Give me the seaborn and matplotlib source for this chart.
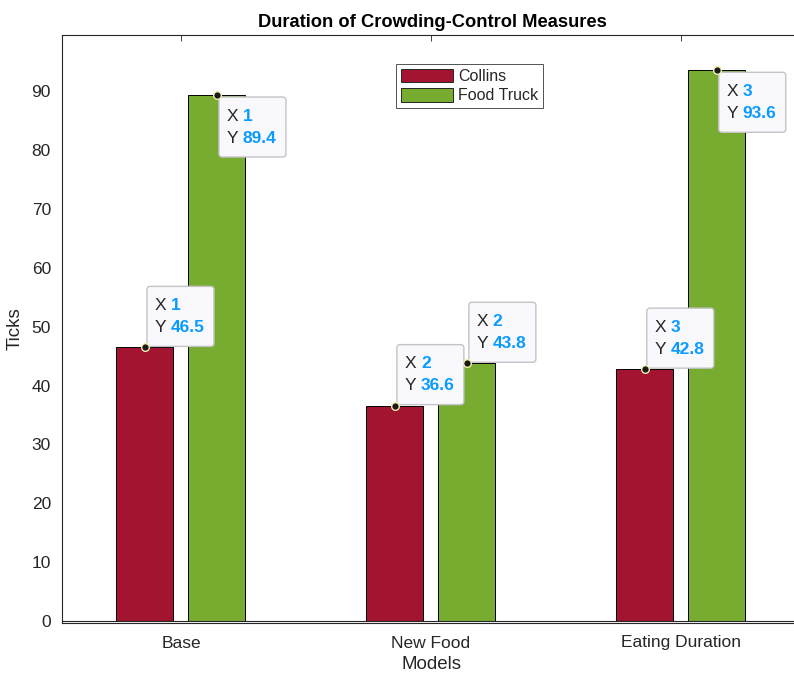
import matplotlib
matplotlib.use('Agg')
import matplotlib.pyplot as plt
from matplotlib.patches import FancyBboxPatch, Rectangle
from matplotlib.transforms import IdentityTransform
import seaborn as sns
import pandas as pd

# data
models = ['Base', 'New Food', 'Eating Duration']
collins = [46.5, 36.6, 42.8]
food_truck = [89.4, 43.8, 93.6]
series_names = ['Collins', 'Food Truck']
tip_below = [[False, False, False], [True, False, True]]  # datatip placed under the point

red = '#A2142F'
green = '#77AC30'
dark = '#262626'
blue = '#0A9BFF'

df = pd.DataFrame({
    'Models': models * 2,
    'Ticks': collins + food_truck,
    'Series': [series_names[0]] * 3 + [series_names[1]] * 3,
})

sns.set_style('white')
plt.rcParams['font.family'] = ['Liberation Sans', 'DejaVu Sans']

fig = plt.figure(figsize=(7.94, 6.75), dpi=100)
ax = fig.add_axes([62 / 794, 52 / 675, 740 / 794, 588 / 675])

sns.barplot(data=df, x='Models', y='Ticks', hue='Series', order=models,
            hue_order=series_names, palette=[red, green], width=0.576, gap=0.208,
            edgecolor='black', linewidth=0.7, saturation=1, ax=ax, legend=False)

ax.set_xlim(-0.476, 2.485)
ax.set_ylim(-0.35, 99.6)
ax.set_yticks(range(0, 100, 10))
ax.axhline(0, color=dark, lw=0.8, zorder=3)

for s in ax.spines.values():
    s.set_color(dark)
    s.set_linewidth(0.8)
    s.set_visible(True)
ax.tick_params(direction='in', length=4, width=0.6, top=True, right=True,
               colors=dark, labelsize=12.5)
ax.tick_params(axis='x', pad=9)
ax.tick_params(axis='y', pad=8)
ax.set_title('Duration of Crowding-Control Measures', fontsize=13.2,
             fontweight='bold', color='black', pad=6)
ax.set_xlabel('Models', fontsize=13.5, color=dark, labelpad=4)
ax.set_ylabel('Ticks', fontsize=13.5, color=dark, labelpad=6)

handles = [Rectangle((0, 0), 1, 1, facecolor=c, edgecolor=dark, lw=0.7) for c in (red, green)]
leg = ax.legend(handles, series_names, loc='upper left', bbox_to_anchor=(0.452, 0.951),
                fontsize=11.5, frameon=True, fancybox=False, edgecolor=dark,
                handlelength=3.25, handleheight=0.94, handletextpad=0.3,
                labelspacing=0.25, borderpad=0.3, borderaxespad=0)
leg.get_frame().set_linewidth(0.7)

fig.canvas.draw()

# MATLAB style datatips, placed at the top centre of each bar
for si, cont in enumerate(ax.containers):
    for ci, bar in enumerate(cont.patches):
        xc = bar.get_x() + bar.get_width() / 2
        yv = bar.get_height()
        px, py = ax.transData.transform((xc, yv))
        w, h = 67, 60
        left = px + 2
        bottom = py - h - 2 if tip_below[si][ci] else py + 1
        box = FancyBboxPatch((left, bottom), w, h, boxstyle='round,pad=0,rounding_size=3',
                             facecolor='#F9F9FD', edgecolor='#C4C4C8', lw=1.0,
                             transform=IdentityTransform(), zorder=6, clip_on=False)
        ax.add_artist(box)
        top = bottom + h
        for lab, val, dy in (('X', str(ci + 1), 19), ('Y', f'{yv:.1f}', 41)):
            ax.text(left + 8, top - dy, lab, transform=IdentityTransform(), fontsize=12.5,
                    color=dark, va='center', ha='left', zorder=7)
            ax.text(left + 24, top - dy, val, transform=IdentityTransform(), fontsize=12.5,
                    color=blue, fontweight='bold', va='center', ha='left', zorder=7)
        ax.plot([xc], [yv], 'o', ms=5.5, mfc='#1a1a1a', mec='#F2F0B0', mew=1.0,
                zorder=8, clip_on=False)

fig.savefig('out.png', dpi=100)
